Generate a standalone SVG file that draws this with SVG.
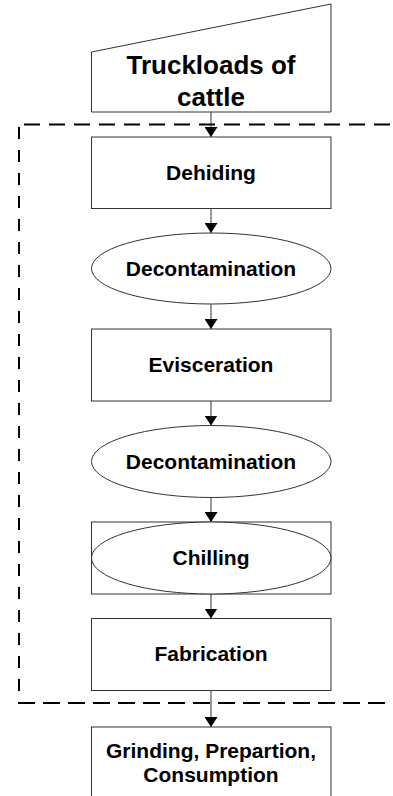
<svg xmlns="http://www.w3.org/2000/svg" width="393" height="796" viewBox="0 0 393 796">
<style>
.n{fill:#fff;stroke:#333;stroke-width:1}
.t{font-family:"Liberation Sans",Arial,sans-serif;font-weight:bold;font-size:21px;fill:#000;text-anchor:middle}
.c{stroke:#333;stroke-width:1;fill:none}
.d{stroke:#000;stroke-width:2;fill:none}
</style>
<defs>
<marker id="ah" viewBox="0 0 10 13" refX="10" refY="6.5" markerWidth="10" markerHeight="13" markerUnits="userSpaceOnUse" orient="auto">
<path d="M0,0 L10,6.5 L0,13 z" fill="#000"/>
</marker>
</defs>
<g id="boundary">
<line class="d" x1="24" y1="124.5" x2="393" y2="124.5" stroke-dasharray="16 9"/>
<line class="d" x1="19" y1="127" x2="19" y2="696" stroke-dasharray="12 11"/>
<line class="d" x1="18" y1="703" x2="393" y2="703" stroke-dasharray="17 8"/>
</g>
<g id="connectors">
<line class="c" x1="211" y1="112" x2="211" y2="137" marker-end="url(#ah)"/>
<line class="c" x1="211" y1="208.5" x2="211" y2="233" marker-end="url(#ah)"/>
<line class="c" x1="211" y1="304" x2="211" y2="329" marker-end="url(#ah)"/>
<line class="c" x1="211" y1="401" x2="211" y2="425.5" marker-end="url(#ah)"/>
<line class="c" x1="211" y1="497.5" x2="211" y2="522" marker-end="url(#ah)"/>
<line class="c" x1="211" y1="594" x2="211" y2="618.5" marker-end="url(#ah)"/>
<line class="c" x1="211" y1="690.5" x2="211" y2="727" marker-end="url(#ah)"/>
</g>
<g id="truckloads">
<polygon class="n" points="91.5,52 331,4 331,112 91.5,112"/>
<text class="t" x="211" y="74" style="font-size:26px">Truckloads of</text>
<text class="t" x="211" y="106" style="font-size:26px">cattle</text>
</g>
<g id="dehiding">
<rect class="n" x="91.5" y="137" width="239.5" height="71.5"/>
<text class="t" x="211" y="180">Dehiding</text>
</g>
<g id="decontamination1">
<ellipse class="n" cx="211.25" cy="268.5" rx="119.75" ry="35.5"/>
<text class="t" x="211" y="276">Decontamination</text>
</g>
<g id="evisceration">
<rect class="n" x="91.5" y="329" width="239.5" height="72"/>
<text class="t" x="211" y="371.5">Evisceration</text>
</g>
<g id="decontamination2">
<ellipse class="n" cx="211.25" cy="461.5" rx="119.75" ry="36"/>
<text class="t" x="211" y="469">Decontamination</text>
</g>
<g id="chilling">
<rect class="n" x="91.5" y="522" width="239.5" height="72"/>
<ellipse class="n" cx="211.25" cy="558" rx="119.75" ry="36" fill="none"/>
<text class="t" x="211" y="564.5">Chilling</text>
</g>
<g id="fabrication">
<rect class="n" x="91.5" y="618.5" width="239.5" height="72"/>
<text class="t" x="211" y="660.5">Fabrication</text>
</g>
<g id="grinding">
<rect class="n" x="91.5" y="727" width="239.5" height="80"/>
<text class="t" x="211" y="758">Grinding, Prepartion,</text>
<text class="t" x="211" y="782">Consumption</text>
</g>
</svg>
